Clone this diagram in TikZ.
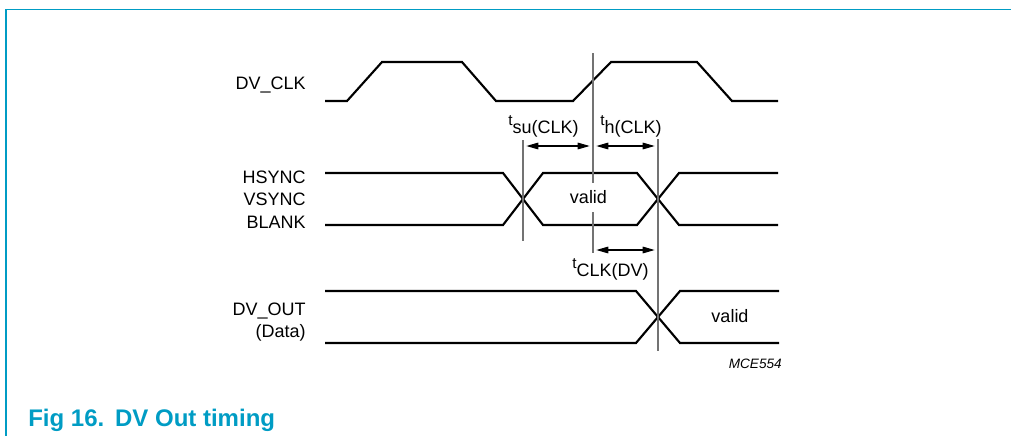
\documentclass[tikz,border=0pt]{standalone}
\usepackage{fontspec}
\setmainfont{Liberation Sans}
\usetikzlibrary{arrows.meta}
\definecolor{nxpteal}{RGB}{0,156,196}
\newcommand{\tsym}{\raisebox{6pt}{\fontsize{11.5}{13}\selectfont t}}
\begin{document}
\begin{tikzpicture}[x=0.75pt,y=-0.75pt,
  sig/.style={line width=1.6pt, line join=miter},
  guide/.style={line width=0.8pt, draw=black!55},
  dim/.style={line width=0.8pt, {Triangle[length=9pt,width=5pt]}-{Triangle[length=9pt,width=5pt]}, shorten <=2.5pt, shorten >=2.5pt},
  lbl/.style={font=\fontsize{13.5}{16}\selectfont, inner sep=0pt}]
\useasboundingbox (0,0) rectangle (1011,436);
% frame
\draw[nxpteal, line width=1.1pt] (1011,9.3) -- (6,9.3) -- (6,436);
% clock
\draw[sig] (325,101) -- (347,101) -- (382,62) -- (462,62) -- (496,101) -- (573,101) -- (611,62) -- (697,62) -- (732,101) -- (778,101);
% HSYNC bus
\draw[sig] (325,173) -- (503,173) -- (543,225) -- (637,225) -- (679,173) -- (778,173);
\draw[sig] (325,225) -- (503,225) -- (543,173) -- (637,173) -- (679,225) -- (778,225);
% DV_OUT bus
\draw[sig] (325,291) -- (636,291) -- (680,343) -- (779,343);
\draw[sig] (325,343) -- (636,343) -- (680,291) -- (779,291);
% guide lines
\coordinate (g1t) at (523,140); \coordinate (g1b) at (523,241);
\coordinate (g2t) at (593,53);  \coordinate (g2b) at (593,253);
\coordinate (g3t) at (658,139); \coordinate (g3b) at (658,351);
\draw[guide] (g1t) -- (g1b);
\draw[guide] (g2t) -- (g2b);
\draw[guide] (g3t) -- (g3b);
% dimension arrows
\coordinate (a1) at (523,146); \coordinate (a2) at (593,146); \coordinate (a3) at (658,146);
\coordinate (b1) at (593,250); \coordinate (b2) at (658,250);
\draw[dim] (a1) -- (a2);
\draw[dim] (a2) -- (a3);
\draw[dim] (b1) -- (b2);
% labels
\node[lbl, anchor=base east] (lclk) at (306,89.3) {DV\_CLK};
\node[lbl, anchor=base east] (lhs) at (306,183.3) {HSYNC};
\node[lbl, anchor=base east] (lvs) at (306,205.5) {VSYNC};
\node[lbl, anchor=base east] (lbl) at (306,228.3) {BLANK};
\node[lbl, anchor=base east] (lout) at (306,315) {DV\_OUT};
\node[lbl, anchor=base east] (ldata) at (306,337) {(Data)};
\node[lbl, fill=white, minimum height=21.75pt, inner xsep=1pt] (v1) at (588.5,197.5) {valid};
\node[lbl, anchor=base] (v2) at (730,322.7) {valid};
\node[lbl, anchor=base west] (tsu) at (508,133) {\tsym su(CLK)};
\node[lbl, anchor=base west] (th) at (600,133) {\tsym h(CLK)};
\node[lbl, anchor=base west] (tdv) at (572,276) {\tsym CLK(DV)};
\node[inner sep=0pt, anchor=base east, font=\itshape\fontsize{10.2}{12}\selectfont] (code) at (782,368) {MCE554};
\node[inner sep=0pt, anchor=base west, text=nxpteal, font=\bfseries\fontsize{18}{20}\selectfont] (title) at (28,426.7) {Fig 16.\hspace{0.45em}DV Out timing};
\end{tikzpicture}
\end{document}
